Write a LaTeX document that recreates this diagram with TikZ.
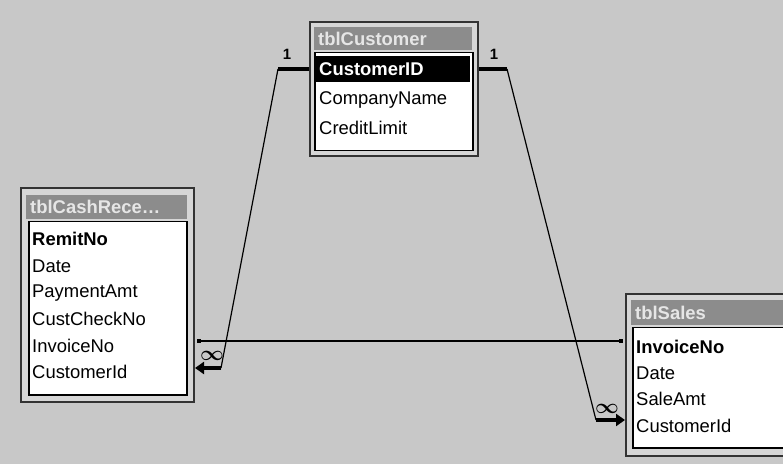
\documentclass[tikz,border=0pt]{standalone}
\usepackage{fontspec}
\setmainfont{Liberation Sans}
\usetikzlibrary{arrows.meta, positioning, calc}
\definecolor{desk}{HTML}{C8C8C8}
\definecolor{winface}{HTML}{D6D6D6}
\definecolor{titlebar}{HTML}{8C8C8C}
\definecolor{titletext}{HTML}{E6E6E6}

\begin{document}
\begin{tikzpicture}[
    x=1bp, y=-1bp,
    font=\fontsize{18.5}{20}\selectfont,
    win/.style={draw=black!80, fill=winface, line width=2bp, anchor=north west, inner sep=0pt},
    bar/.style={fill=titlebar, anchor=north west, inner sep=0pt},
    list/.style={draw=black, fill=white, line width=1.5bp, anchor=north west, inner sep=0pt},
    fld/.style={anchor=west, inner sep=1bp},
    key/.style={fld, font=\fontsize{18.5}{20}\selectfont\bfseries},
    ttl/.style={anchor=west, text=titletext, font=\fontsize{18.5}{20}\selectfont\bfseries, inner sep=0pt},
    rel/.style={black, line width=1.2bp},
    stub/.style={black, line width=4bp},
    card/.style={font=\fontsize{15}{15}\selectfont\bfseries, inner sep=0pt},
    many/.style={font=\fontsize{20}{20}\selectfont\boldmath, inner sep=0pt},
    tip/.style={-{Triangle[length=9bp,width=12bp]}}
  ]
    \useasboundingbox (0,0) rectangle (783,464);
    \fill[desk] (0,0) rectangle (783,464);

    % tblCustomer
    \node[win, minimum width=168bp, minimum height=134bp] (wCust) at (309,21) {};
    \node[bar, minimum width=158bp, minimum height=23bp] (bCust) at (314,27) {};
    \node[ttl] (tCust) at (318,38.5) {tblCustomer};
    \node[list, minimum width=158bp, minimum height=98bp] (lCust) at (314,52) {};
    \node[fill=black, anchor=north west, inner sep=0pt, minimum width=154bp, minimum height=26bp] (hCust) at (316,56) {};
    \node[key, text=white] (cCustID) at (318,69) {CustomerID};
    \node[fld] (cCompany) at (318,100) {CompanyName};
    \node[fld] (cCredit) at (318,128) {CreditLimit};

    % tblCashReceipts
    \node[win, minimum width=173bp, minimum height=214bp] (wCash) at (20,187) {};
    \node[bar, minimum width=161bp, minimum height=24bp] (bCash) at (26,195) {};
    \node[ttl] (tCash) at (30,207) {tblCashRece\ldots};
    \node[list, minimum width=158bp, minimum height=173bp] (lCash) at (28,221) {};
    \node[key] (rRemit) at (31,239) {RemitNo};
    \node[fld] (rDate) at (31,266) {Date};
    \node[fld] (rPay) at (31,293) {PaymentAmt};
    \node[fld] (rCheck) at (31,319) {CustCheckNo};
    \node[fld] (rInvoice) at (31,346) {InvoiceNo};
    \node[fld] (rCustId) at (31,372) {CustomerId};

    % tblSales
    \node[win, minimum width=170bp, minimum height=162bp] (wSales) at (625,293) {};
    \node[bar, minimum width=160bp, minimum height=25bp] (bSales) at (631,300) {};
    \node[ttl] (tSales) at (635,312.5) {tblSales};
    \node[list, minimum width=160bp, minimum height=120bp] (lSales) at (632,327) {};
    \node[key] (sInvoice) at (635,347) {InvoiceNo};
    \node[fld] (sDate) at (635,373) {Date};
    \node[fld] (sAmt) at (635,399) {SaleAmt};
    \node[fld] (sCustId) at (635,426) {CustomerId};

    % tblCustomer -> tblCashReceipts
    \coordinate (l1) at ($(wCust.west |- cCustID)+(-31,0)$);
    \coordinate (l2) at ($(wCash.east |- rCustId)+(26,-4)$);
    \draw[stub] (wCust.west |- cCustID) -- (l1);
    \draw[rel] (l1) -- (l2);
    \draw[stub, tip] (l2) -- (wCash.east |- l2);
    \node[card] (one1) at ($(l1)+(9,-15)$) {1};
    \node[many] (inf1) at ($(l2)+(-9,-12)$) {$\infty$};

    % tblCustomer -> tblSales
    \coordinate (r1) at ($(wCust.east |- cCustID)+(28,0)$);
    \coordinate (r2) at ($(wSales.west |- sCustId)+(-29,-6)$);
    \draw[stub] (wCust.east |- cCustID) -- (r1);
    \draw[rel] (r1) -- (r2);
    \draw[stub, tip] (r2) -- (wSales.west |- r2);
    \node[card] (one2) at ($(r1)+(-13,-15)$) {1};
    \node[many] (inf2) at ($(r2)+(11,-11)$) {$\infty$};

    % join on InvoiceNo
    \coordinate (j1) at ($(wCash.east |- rInvoice)+(2,-5)$);
    \coordinate (j2) at ($(wSales.west |- rInvoice)+(-2,-5)$);
    \draw[rel, {Square[length=4bp,width=4bp]}-{Square[length=4bp,width=4bp]}] (j1) -- (j2);
  \end{tikzpicture}
\end{document}
